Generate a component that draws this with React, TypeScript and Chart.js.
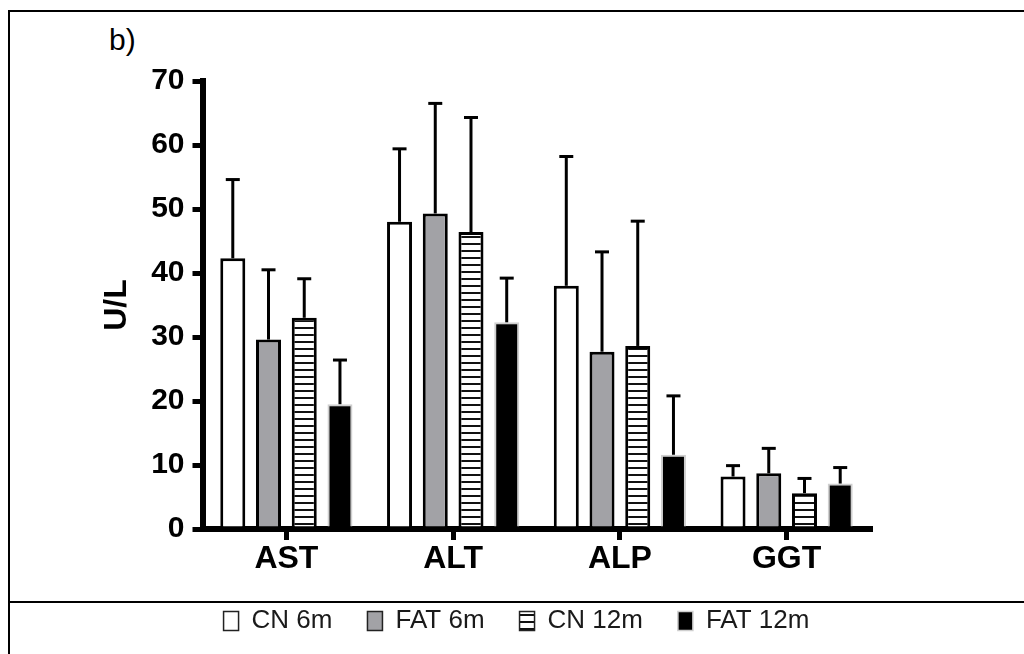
import React, { useEffect, useRef } from 'react';
import { Chart, registerables } from 'chart.js';

Chart.register(...registerables);

const categories = ['AST', 'ALT', 'ALP', 'GGT'];
const seriesNames = ['CN 6m', 'FAT 6m', 'CN 12m', 'FAT 12m'];
const cn6mMeans = [42.3, 48.0, 38.0, 8.2];
const cn6mErrors = [12.3, 11.4, 20.2, 1.7];
const fat6mMeans = [29.6, 49.3, 27.7, 8.7];
const fat6mErrors = [10.9, 17.2, 15.6, 3.9];
const cn12mMeans = [33.0, 46.4, 28.6, 5.6];
const cn12mErrors = [6.1, 17.9, 19.5, 2.3];
const fat12mMeans = [19.5, 32.3, 11.6, 7.1];
const fat12mErrors = [6.9, 6.9, 9.2, 2.5];
const yMin = 0;
const yMax = 70;
const yStep = 10;
const yTitle = 'U/L';
const panelLabel = 'b)';

const FONT = '"Liberation Sans", Arial, sans-serif';

export default function App() {
  const ref = useRef<HTMLCanvasElement>(null);

  useEffect(() => {
    const canvas = ref.current!;
    const pc = document.createElement('canvas');
    pc.width = 8;
    pc.height = 7;
    const pctx = pc.getContext('2d')!;
    pctx.fillStyle = '#ffffff';
    pctx.fillRect(0, 0, 8, 7);
    pctx.fillStyle = '#111111';
    pctx.fillRect(0, 5, 8, 2);
    const hatch = canvas.getContext('2d')!.createPattern(pc, 'repeat')!;

    const errorSets = [cn6mErrors, fat6mErrors, cn12mErrors, fat12mErrors];

    const errorBars = {
      id: 'errorBars',
      afterDatasetsDraw(chart: any) {
        const ctx = chart.ctx;
        const y = chart.scales.y;
        ctx.save();
        ctx.strokeStyle = '#000';
        ctx.lineWidth = 3;
        chart.data.datasets.forEach((ds: any, i: number) => {
          const meta = chart.getDatasetMeta(i);
          meta.data.forEach((el: any, j: number) => {
            const v = ds.data[j];
            const top = y.getPixelForValue(v + errorSets[i][j]);
            const x = el.x;
            ctx.beginPath();
            ctx.moveTo(x, el.y);
            ctx.lineTo(x, top);
            ctx.stroke();
            ctx.beginPath();
            ctx.moveTo(x - 7, top);
            ctx.lineTo(x + 7, top);
            ctx.stroke();
          });
        });
        ctx.restore();
      },
    };

    const chart = new Chart(canvas, {
      type: 'bar',
      data: {
        labels: categories,
        datasets: [
          { label: seriesNames[0], data: cn6mMeans, backgroundColor: '#ffffff', borderColor: '#000000', borderWidth: 3 },
          { label: seriesNames[1], data: fat6mMeans, backgroundColor: '#a2a2a6', borderColor: '#000000', borderWidth: 3 },
          { label: seriesNames[2], data: cn12mMeans, backgroundColor: hatch, borderColor: '#000000', borderWidth: 3 },
          { label: seriesNames[3], data: fat12mMeans, backgroundColor: '#000000', borderColor: '#cfcfcf', borderWidth: 2 },
        ],
      },
      options: {
        responsive: false,
        animation: false,
        devicePixelRatio: 1,
        datasets: { bar: { categoryPercentage: 0.857, barPercentage: 0.7 } },
        layout: { padding: { left: 9, top: 81, right: 0, bottom: 10 } },
        plugins: {
          tooltip: { enabled: false },
          title: { display: false },
          legend: {
            position: 'bottom',
            labels: {
              boxWidth: 15,
              boxHeight: 19,
              padding: 35,
              color: '#1a1a1a',
              font: { family: FONT, size: 26 },
              generateLabels: (c: any) =>
                (Chart.defaults.plugins.legend.labels as any).generateLabels(c).map((it: any, i: number) => ({
                  ...it,
                  lineWidth: 1.5,
                  strokeStyle: i === 3 ? '#cfcfcf' : '#222222',
                })),
            },
          },
        },
        scales: {
          x: {
            grid: { display: true, drawOnChartArea: false, offset: false, color: '#000', lineWidth: 5, tickLength: 11 },
            border: { display: true, color: '#000', width: 6 },
            ticks: { color: '#000', font: { family: FONT, size: 32, weight: 'bold' }, padding: 0 },
            afterFit: (s: any) => { s.height = 44; },
          },
          y: {
            min: yMin,
            max: yMax,
            ticks: { stepSize: yStep, color: '#000', font: { family: FONT, size: 30, weight: 'bold' }, padding: 8 },
            grid: { drawOnChartArea: false, color: '#000', lineWidth: 5, tickLength: 10.5 },
            border: { display: true, color: '#000', width: 6 },
            title: { display: true, text: yTitle, color: '#000', font: { family: FONT, size: 32, weight: 'bold' }, padding: { top: 89, bottom: 0 } },
            afterFit: (s: any) => { s.width = 194; },
          },
          y2: {
            position: 'right',
            display: true,
            grid: { display: false },
            border: { display: false },
            ticks: { display: false },
            afterFit: (s: any) => { s.width = 154; },
          },
        },
      },
      plugins: [errorBars],
    } as any);

    return () => chart.destroy();
  }, []);

  return (
    <div style={{ position: 'fixed', left: 0, top: 0, width: 1024, height: 654, background: '#fff', overflow: 'hidden' }}>
      <div style={{ position: 'absolute', left: 8, top: 10, width: 1030, height: 660, borderTop: '2px solid #000', borderLeft: '2px solid #000' }} />
      <div style={{ position: 'absolute', left: 8, top: 601, width: 1030, height: 2, background: '#000' }} />
      <div style={{ position: 'absolute', left: 109, top: 25, fontFamily: FONT, fontSize: 30, lineHeight: 1, color: '#000' }}>{panelLabel}</div>
      <canvas ref={ref} width={1024} height={654} style={{ position: 'absolute', left: 0, top: 0, width: 1024, height: 654 }} />
    </div>
  );
}
